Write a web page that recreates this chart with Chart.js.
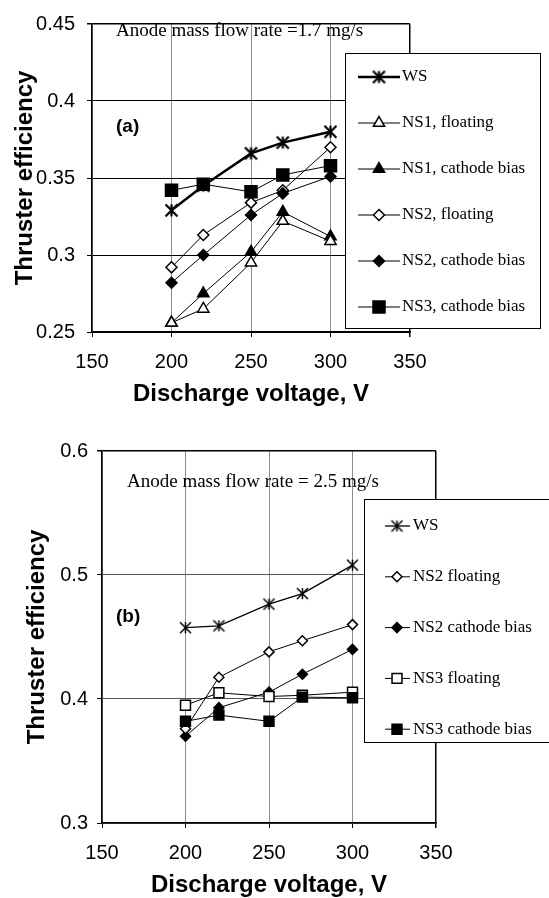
<!DOCTYPE html>
<html>
<head>
<meta charset="utf-8">
<script src="https://cdn.jsdelivr.net/npm/chart.js@4.4.0/dist/chart.umd.min.js"></script>
<style>
  html, body { margin: 0; padding: 0; background: #fff; }
  #wrap { position: relative; width: 549px; height: 898px; overflow: hidden; }
  .panel { position: absolute; left: 0; width: 549px; }
</style>
</head>
<body>
<div id="wrap">
  <div class="panel" style="top:0;height:410px"><canvas id="chartA"></canvas></div>
  <div class="panel" style="top:410px;height:488px"><canvas id="chartB"></canvas></div>
</div>
<script>
// Panel (a) - anode mass flow rate 1.7 mg/s
const voltagesA = [200, 220, 250, 270, 300];
const wsA       = [0.329, 0.345, 0.366, 0.373, 0.380];
const ns1FloatA = [0.256, 0.265, 0.295, 0.322, 0.309];
const ns1BiasA  = [0.256, 0.275, 0.302, 0.328, 0.312];
const ns2FloatA = [0.292, 0.313, 0.334, 0.342, 0.370];
const ns2BiasA  = [0.282, 0.300, 0.326, 0.340, 0.351];
const ns3BiasA  = [0.342, 0.346, 0.341, 0.352, 0.358];
const yTicksA   = [0.25, 0.3, 0.35, 0.4, 0.45];

// Panel (b) - anode mass flow rate 2.5 mg/s
const voltagesB = [200, 220, 250, 270, 300];
const wsB       = [0.4575, 0.459, 0.4765, 0.485, 0.508];
const ns2FloatB = [0.376, 0.4175, 0.438, 0.447, 0.460];
const ns2BiasB  = [0.370, 0.393, 0.4055, 0.420, 0.440];
const ns3FloatB = [0.395, 0.405, 0.402, 0.403, 0.4055];
const ns3BiasB  = [0.382, 0.387, 0.382, 0.4015, 0.401];
const yTicksB   = [0.3, 0.4, 0.5, 0.6];

const xTicks = [150, 200, 250, 300, 350];

const SANS = "'Liberation Sans', Arial, sans-serif";
const SERIF = "'Liberation Serif', 'Times New Roman', serif";

// six-armed asterisk used for the WS series
function makeAsterisk(half, width) {
    const c = document.createElement('canvas');
    const s = Math.ceil(half * 2 + width + 2);
    c.width = s; c.height = s;
    const g = c.getContext('2d');
    const m = s / 2;
    g.strokeStyle = '#000';
    g.lineWidth = width;
    g.beginPath();
    g.moveTo(m - half, m - half); g.lineTo(m + half, m + half);
    g.moveTo(m - half, m + half); g.lineTo(m + half, m - half);
    g.moveTo(m, m - half); g.lineTo(m, m + half);
    g.stroke();
    return c;
}

function series(label, xs, ys, style) {
    return Object.assign({
        label: label,
        data: xs.map((x, i) => ({ x: x, y: ys[i] })),
        borderColor: '#000',
        borderWidth: 1,
        pointBorderColor: '#000',
        pointBorderWidth: 1.5,
        tension: 0
    }, style);
}

function drawLegend(chart, lg) {
    const ctx = chart.ctx;
    ctx.save();
    ctx.fillStyle = '#fff';
    ctx.fillRect(lg.x, lg.y, lg.w, lg.h);
    ctx.strokeStyle = '#000';
    ctx.lineWidth = 1;
    ctx.strokeRect(lg.x + 0.5, lg.y + 0.5, lg.w, lg.h);
    chart.data.datasets.forEach((ds, i) => {
        const y = lg.firstY + i * lg.step;
        ctx.strokeStyle = '#000';
        ctx.lineWidth = ds.borderWidth;
        ctx.beginPath();
        ctx.moveTo(lg.lineX0, y);
        ctx.lineTo(lg.lineX1, y);
        ctx.stroke();
        ctx.fillStyle = ds.pointBackgroundColor;
        ctx.strokeStyle = '#000';
        ctx.lineWidth = ds.pointBorderWidth;
        Chart.helpers.drawPoint(ctx, {
            pointStyle: ds.pointStyle, radius: ds.pointRadius,
            rotation: 0, borderWidth: ds.pointBorderWidth
        }, lg.markX, y);
        ctx.fillStyle = '#000';
        ctx.font = '17px ' + SERIF;
        ctx.textAlign = 'left';
        ctx.textBaseline = 'middle';
        ctx.fillText(ds.label, lg.textX, y);
    });
    ctx.restore();
}

function makePanel(id, cfg) {
    const decor = {
        id: 'decor_' + id,
        afterDraw(chart) {
            const ctx = chart.ctx;
            ctx.save();
            ctx.fillStyle = '#000';
            ctx.textAlign = 'left';
            ctx.textBaseline = 'middle';
            ctx.font = '19px ' + SERIF;
            ctx.fillText(cfg.note, cfg.noteX, cfg.noteY);
            ctx.font = 'bold 19px ' + SANS;
            ctx.fillText(cfg.tag, 116, cfg.tagY);
            ctx.restore();
            drawLegend(chart, cfg.legend);
        }
    };

    return new Chart(document.getElementById(id), {
        type: 'line',
        data: { datasets: cfg.datasets },
        plugins: [decor],
        options: {
            responsive: true,
            maintainAspectRatio: false,
            animation: false,
            layout: { padding: { top: cfg.padTop, right: cfg.padRight, left: 0, bottom: 0 } },
            plugins: { legend: { display: false }, tooltip: { enabled: false } },
            scales: {
                x: {
                    type: 'linear', min: 150, max: 350,
                    afterBuildTicks: s => { s.ticks = xTicks.map(v => ({ value: v })); },
                    afterFit: s => { s.height = cfg.xHeight; },
                    ticks: {
                        color: '#000', padding: 13, maxRotation: 0,
                        font: { family: SANS, size: 20 },
                        callback: v => String(v)
                    },
                    grid: {
                        color: c => (c.tick && c.tick.value === 350) ? '#000' : '#8c8c8c',
                        lineWidth: c => (c.tick && c.tick.value === 350) ? 1.5 : 1,
                        tickColor: '#000', tickLength: 5
                    },
                    border: { display: true, color: '#000', width: 1.5 },
                    title: {
                        display: true, text: 'Discharge voltage, V', color: '#000',
                        font: { family: SANS, size: 24, weight: 'bold', lineHeight: 1 },
                        padding: { top: 0, bottom: cfg.xTitlePad }
                    }
                },
                y: {
                    type: 'linear', min: cfg.yTicks[0], max: cfg.yTicks[cfg.yTicks.length - 1],
                    afterBuildTicks: s => { s.ticks = cfg.yTicks.map(v => ({ value: v })); },
                    afterFit: s => { s.width = cfg.yWidth; },
                    ticks: {
                        color: '#000', padding: cfg.yTickPad,
                        font: { family: SANS, size: 20 },
                        callback: v => String(v)
                    },
                    grid: {
                        color: c => (c.tick && c.tick.value === cfg.yTicks[cfg.yTicks.length - 1]) ? '#000' : cfg.hGrid,
                        lineWidth: c => (c.tick && c.tick.value === cfg.yTicks[cfg.yTicks.length - 1]) ? 1.5 : 1,
                        tickColor: '#000', tickLength: 5
                    },
                    border: { display: true, color: '#000', width: 1.5 },
                    title: {
                        display: true, text: 'Thruster efficiency', color: '#000',
                        font: { family: SANS, size: 24, weight: 'bold', lineHeight: 1 },
                        padding: { top: cfg.yTitlePad, bottom: 0 }
                    }
                }
            }
        }
    });
}

document.addEventListener('DOMContentLoaded', function () {
    const starA = makeAsterisk(6, 2.2);
    const starB = makeAsterisk(5.5, 1.5);

    makePanel('chartA', {
        padTop: 17, padRight: 139, xHeight: 78, yWidth: 92,
        xTitlePad: 4, yTitlePad: 13, yTickPad: 12,
        yTicks: yTicksA, hGrid: '#000',
        note: 'Anode mass flow rate =1.7 mg/s', noteX: 116, noteY: 31,
        tag: '(a)', tagY: 127,
        legend: { x: 345, y: 53, w: 195, h: 275, firstY: 77, step: 46,
                  lineX0: 358, lineX1: 400, markX: 379, textX: 402 },
        datasets: [
            series('WS', voltagesA, wsA, { borderWidth: 2.5, pointStyle: starA, pointRadius: 7, pointBackgroundColor: '#000', order: 1 }),
            series('NS1, floating', voltagesA, ns1FloatA, { pointStyle: 'triangle', pointRadius: 6.5, pointBackgroundColor: '#fff', order: 4 }),
            series('NS1, cathode bias', voltagesA, ns1BiasA, { pointStyle: 'triangle', pointRadius: 6.5, pointBackgroundColor: '#000', order: 5 }),
            series('NS2, floating', voltagesA, ns2FloatA, { pointStyle: 'rectRot', pointRadius: 5.5, pointBackgroundColor: '#fff', order: 3 }),
            series('NS2, cathode bias', voltagesA, ns2BiasA, { pointStyle: 'rectRot', pointRadius: 5.5, pointBackgroundColor: '#000', order: 2 }),
            series('NS3, cathode bias', voltagesA, ns3BiasA, { pointStyle: 'rect', pointRadius: 8.5, pointBackgroundColor: '#000', order: 0 })
        ]
    });

    makePanel('chartB', {
        padTop: 41, padRight: 113, xHeight: 75, yWidth: 102,
        xTitlePad: 1, yTitlePad: 25, yTickPad: 9,
        yTicks: yTicksB, hGrid: '#555',
        note: 'Anode mass flow rate = 2.5 mg/s', noteX: 127, noteY: 72,
        tag: '(b)', tagY: 207,
        legend: { x: 364, y: 89, w: 200, h: 243, firstY: 116, step: 50.8,
                  lineX0: 385, lineX1: 410, markX: 397, textX: 413 },
        datasets: [
            series('WS', voltagesB, wsB, { borderWidth: 1.3, pointStyle: starB, pointRadius: 6, pointBackgroundColor: '#000', order: 0 }),
            series('NS2 floating', voltagesB, ns2FloatB, { pointStyle: 'rectRot', pointRadius: 5, pointBackgroundColor: '#fff', order: 3 }),
            series('NS2 cathode bias', voltagesB, ns2BiasB, { pointStyle: 'rectRot', pointRadius: 5, pointBackgroundColor: '#000', order: 4 }),
            series('NS3 floating', voltagesB, ns3FloatB, { pointStyle: 'rect', pointRadius: 7, pointBackgroundColor: '#fff', order: 2 }),
            series('NS3 cathode bias', voltagesB, ns3BiasB, { pointStyle: 'rect', pointRadius: 7, pointBackgroundColor: '#000', order: 1 })
        ]
    });
});
</script>
</body>
</html>
